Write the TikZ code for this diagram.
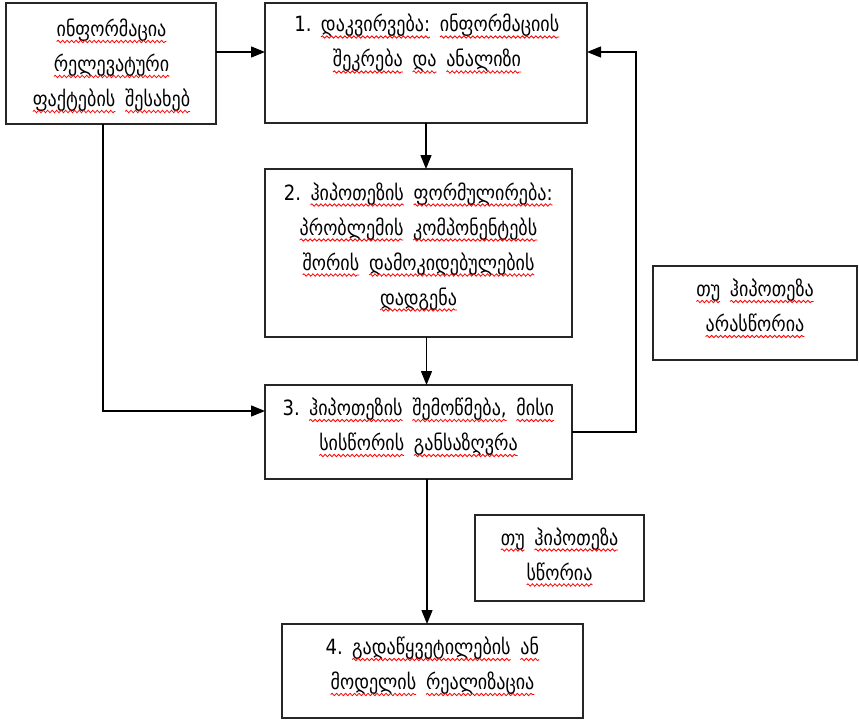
\documentclass[tikz,border=0pt]{standalone}
\usepackage{fontspec}
\setmainfont{DejaVu Sans}[FakeStretch=0.86]
\usetikzlibrary{arrows.meta,calc,decorations.pathmorphing}
\newcommand\rw[1]{\tikz[baseline=0pt,x=1pt,y=1pt]{\node[inner sep=0pt,outer sep=0pt,anchor=base west,draw=none] (wd) at (0,0) {#1};\draw[red,line width=0.8pt,decorate,decoration={snake,amplitude=1.2pt,segment length=4.5pt}] ([yshift=-5pt]wd.base west) -- ([yshift=-5pt]wd.base east);}}
\newcommand\gs{\hspace{9pt}}
\tikzset{
  box/.style={draw=black!85, line width=1.4pt, inner sep=0pt, outer sep=0pt},
  txt/.style={align=center, inner sep=0pt, font=\fontsize{21}{35}\selectfont},
  arr/.style={draw=black, line width=1.4pt, -{Triangle[length=14pt,width=11pt]}}
}
\begin{document}
\begin{tikzpicture}[x=1pt,y=-1pt]
\path[fill=white] (0,0) rectangle (859,720);
% boxes
\node[box, minimum width=210pt, minimum height=121pt] (A) at (111,63.5) {};
\node[box, minimum width=322pt, minimum height=120pt] (B1) at (426,63) {};
\node[box, minimum width=307pt, minimum height=168pt] (B2) at (418.5,253) {};
\node[box, minimum width=307pt, minimum height=94pt] (B3) at (418.5,432) {};
\node[box, minimum width=204pt, minimum height=94pt] (R) at (755,313) {};
\node[box, minimum width=169pt, minimum height=86pt] (M) at (559.5,558) {};
\node[box, minimum width=301pt, minimum height=94pt] (B4) at (432.5,671) {};
% texts
\node[txt] (tA) at (111.5,66) {\rw{ინფორმაცია}\\\rw{რელევატური}\\\rw{ფაქტების}\gs\rw{შესახებ}};
\node[txt] (t1) at (427,44) {1.\gs\rw{დაკვირვება:}\gs\rw{ინფორმაციის}\\\rw{შეკრება}\gs\rw{და}\gs\rw{ანალიზი}};
\node[txt] (t2) at (418.5,247) {2.\gs\rw{ჰიპოთეზის}\gs\rw{ფორმულირება:}\\\rw{პრობლემის}\gs\rw{კომპონენტებს}\\\rw{შორის}\gs\rw{დამოკიდებულების}\\\rw{დადგენა}};
\node[txt] (t3) at (418.5,427.5) {3.\gs\rw{ჰიპოთეზის}\gs\rw{შემოწმება,}\gs\rw{მისი}\\\rw{სისწორის}\gs\rw{განსაზღვრა}};
\node[txt] (tR) at (755,308.5) {\rw{თუ}\gs\rw{ჰიპოთეზა}\\\rw{არასწორია}};
\node[txt] (tM) at (559.5,557) {\rw{თუ}\gs\rw{ჰიპოთეზა}\\\rw{სწორია}};
\node[txt] (t4) at (432.5,666.5) {4.\gs\rw{გადაწყვეტილების}\gs\rw{ან}\\\rw{მოდელის}\gs\rw{რეალიზაცია}};
% connectors
\draw[arr] ([yshift=11.5pt]A.east) -- ([yshift=11.5pt]A.east -| B1.west);
\draw[arr] ([xshift=-8pt]A.south) |- ([yshift=21pt]B3.west);
\draw[arr] (B1.south) -- (B1.south |- B2.north);
\draw[arr] ([xshift=8pt]B2.south) -- ([xshift=8pt]B3.north);
\draw[arr] ([xshift=8.5pt]B3.south) -- ([xshift=8.5pt]B3.south |- B4.north);
\draw[arr] (B3.east) -- ++(64,0) |- ([yshift=11pt]B1.east);
\end{tikzpicture}
\end{document}
